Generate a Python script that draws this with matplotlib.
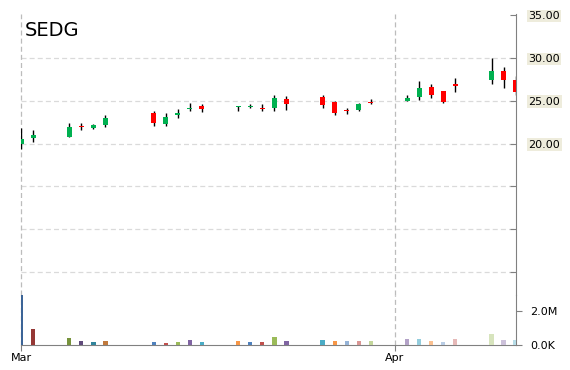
import matplotlib
matplotlib.use("Agg")
import matplotlib.pyplot as plt
import matplotlib.dates as mdates
import pandas as pd
import numpy as np

# Daily OHLC (SEDG, Mar - Apr)
dates = ["2018-03-01", "2018-03-02", "2018-03-05", "2018-03-06", "2018-03-07",
         "2018-03-08", "2018-03-12", "2018-03-13", "2018-03-14", "2018-03-15",
         "2018-03-16", "2018-03-19", "2018-03-20", "2018-03-21", "2018-03-22",
         "2018-03-23", "2018-03-26", "2018-03-27", "2018-03-28", "2018-03-29",
         "2018-03-30", "2018-04-02", "2018-04-03", "2018-04-04", "2018-04-05",
         "2018-04-06", "2018-04-09", "2018-04-10", "2018-04-11"]
opens = [20.00, 20.70, 20.76, 21.95, 21.86, 22.21, 23.60, 22.33, 23.37, 24.07,
         24.42, 24.22, 24.30, 24.19, 24.19, 25.23, 25.47, 24.88, 23.84, 23.95,
         24.88, 25.00, 25.47, 26.63, 26.16, 26.90, 27.44, 28.49, 27.44]
highs = [21.86, 21.63, 22.44, 22.44, 22.33, 23.37, 23.84, 23.60, 24.07, 24.77,
         24.65, 24.42, 24.65, 24.65, 25.70, 25.58, 25.70, 25.00, 24.19, 24.77,
         25.23, 25.70, 27.33, 26.98, 26.16, 27.67, 30.00, 28.95, 27.91]
lows = [19.42, 20.15, 20.74, 21.55, 21.66, 21.98, 22.09, 22.09, 23.02, 23.84,
        23.72, 23.84, 24.19, 23.84, 23.84, 23.95, 24.19, 23.37, 23.49, 23.84,
        24.65, 24.97, 25.12, 25.35, 24.77, 26.05, 26.98, 26.51, 25.70]
closes = [20.58, 21.05, 21.98, 21.90, 22.21, 23.02, 22.44, 23.14, 23.60, 24.19,
          24.07, 24.30, 24.40, 24.07, 25.35, 24.65, 24.53, 23.60, 23.75, 24.65,
          24.77, 25.35, 26.51, 25.70, 24.88, 26.66, 28.49, 27.44, 26.05]
volumes = [2.92e6, 0.96e6, 0.43e6, 0.25e6, 0.20e6, 0.25e6, 0.20e6, 0.13e6, 0.20e6,
           0.32e6, 0.20e6, 0.25e6, 0.20e6, 0.20e6, 0.50e6, 0.25e6, 0.32e6, 0.25e6,
           0.25e6, 0.25e6, 0.25e6, 0.37e6, 0.37e6, 0.25e6, 0.20e6, 0.37e6, 0.66e6,
           0.32e6, 0.32e6]

price_ticks = [35, 30, 25, 20, 15, 10, 5]
price_labels = ["35.00", "30.00", "25.00", "20.00", "", "", ""]
vol_ticks = [0, 2e6]
vol_labels = ["0.0K", "2.0M"]

# office-style palette cycling for the volume bars
vol_colors = ["#3c6497", "#953735", "#77933c", "#604a7b", "#31859c", "#c0793c",
              "#4f81bd", "#c0504d", "#9bbb59", "#8064a2", "#4bacc6", "#f79646",
              "#4f81bd", "#c0504d", "#9bbb59", "#8064a2", "#4bacc6", "#f79646",
              "#95b3d7", "#d99694", "#c3d69b", "#b3a2c7", "#93cddd", "#fac090",
              "#b9cde5", "#e6b9b8", "#d7e4bd", "#ccc1da", "#b7dde8"]

x = mdates.date2num(pd.to_datetime(dates))
o = np.array(opens)
c = np.array(closes)

fig = plt.figure(figsize=(5.7, 3.7), dpi=100)
W, H = 570, 370
left, right = 21 / W, 516 / W
ax = fig.add_axes([left, 1 - 295 / H, right - left, (295 - 14) / H])
axv = fig.add_axes([left, 1 - 345 / H, right - left, 50 / H], sharex=ax)

gray = "#808080"
grid_col = "#dadada"

# candles
up = c >= o
body_col = np.where(up, "#00b050", "#ff0000")
ax.vlines(x, lows, highs, color="black", lw=1.0, zorder=2)
bottoms = np.minimum(o, c)
heights = np.maximum(np.abs(c - o), 0.12)
ax.bar(x, heights, bottom=bottoms, width=0.42, color=body_col, edgecolor="none", zorder=3)

# volume
axv.bar(x, volumes, width=0.36, color=vol_colors, edgecolor="none", zorder=3)

xmin = mdates.date2num(pd.Timestamp("2018-03-01"))
xmax = mdates.date2num(pd.Timestamp("2018-04-11"))
ax.set_xlim(xmin, xmax + 0.03)

ax.set_ylim(25 - 195 / 8.6, 35 + 1 / 8.6)
axv.set_ylim(0, 50 / 17 * 1e6)

# horizontal grid
for p in price_ticks[1:]:
    ax.axhline(p, color=grid_col, lw=0.9, dashes=(4, 2.5), zorder=1)

# month lines
for m in ["2018-03-01", "2018-04-01"]:
    mx = mdates.date2num(pd.Timestamp(m))
    for a in (ax, axv):
        a.axvline(mx, color="#bcbcbc", lw=0.9, dashes=(4, 2.5), zorder=1, clip_on=False)

for a in (ax, axv):
    a.spines["left"].set_visible(False)
    a.spines["right"].set_color(gray)
    a.yaxis.tick_right()
    a.patch.set_alpha(0)
ax.spines["top"].set_visible(False)
ax.spines["bottom"].set_visible(False)
axv.spines["top"].set_visible(False)
axv.spines["bottom"].set_color(gray)

ax.set_yticks(price_ticks)
ax.set_yticklabels(price_labels)
ax.tick_params(axis="y", direction="in", length=4, color=gray, pad=9, labelsize=8)
for lab in ax.get_yticklabels():
    if lab.get_text():
        lab.set_bbox(dict(facecolor="#eeecdc", edgecolor="none", pad=1))
ax.tick_params(axis="x", bottom=False, labelbottom=False)

axv.set_yticks(vol_ticks)
axv.set_yticklabels(vol_labels)
axv.tick_params(axis="y", direction="out", length=4, color=gray, pad=6, labelsize=8)

axv.xaxis.set_major_locator(mdates.MonthLocator())
axv.xaxis.set_major_formatter(mdates.DateFormatter("%b"))
axv.tick_params(axis="x", direction="out", length=4, color=gray, pad=2, labelsize=8)

fig.text(25 / W, 1 - 31 / H, "SEDG", fontsize=14, va="center", ha="left")

fig.savefig("out.png", dpi=100)
